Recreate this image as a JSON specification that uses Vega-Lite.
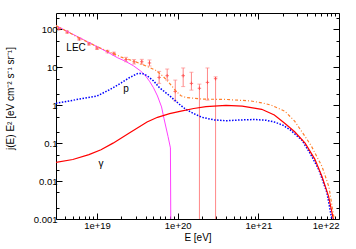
{
  "$schema": "https://vega.github.io/schema/vega-lite/v6.json",
  "width": 283,
  "height": 206,
  "autosize": "none",
  "padding": {"left": 56, "top": 13, "right": 17, "bottom": 30},
  "config": {
    "font": "Liberation Sans",
    "view": {"stroke": "#000", "strokeWidth": 1},
    "axis": {"labelFont": "Liberation Sans", "labelFontSize": 9.5, "labelColor": "#000", "titleFont": "Liberation Sans", "titleFontSize": 10, "titleFontWeight": "normal", "titleColor": "#000", "tickColor": "#000", "tickWidth": 1, "grid": false, "domain": false}
  },
  "datasets": {
    "tot": [
      {"E": 3.09e18, "v": 126}, {"E": 5.62e18, "v": 64}, {"E": 1.0e19, "v": 35}, {"E": 1.19e19, "v": 30},
      {"E": 2.0e19, "v": 18.5}, {"E": 2.82e19, "v": 14.7}, {"E": 3.98e19, "v": 11}, {"E": 5.31e19, "v": 8.4},
      {"E": 6.46e19, "v": 6.0}, {"E": 7.76e19, "v": 4.0}, {"E": 9.44e19, "v": 2.4}, {"E": 1.10e20, "v": 1.77},
      {"E": 1.26e20, "v": 1.6}, {"E": 2.0e20, "v": 1.45}, {"E": 3.98e20, "v": 1.42}, {"E": 7.94e20, "v": 1.3},
      {"E": 1.12e21, "v": 1.15}, {"E": 1.45e21, "v": 1.0}, {"E": 2.14e21, "v": 0.69}, {"E": 2.82e21, "v": 0.38},
      {"E": 3.80e21, "v": 0.15}, {"E": 4.57e21, "v": 0.082}, {"E": 6.17e21, "v": 0.024}, {"E": 7.5e21, "v": 0.007},
      {"E": 8.71e21, "v": 0.001}, {"E": 9.33e21, "v": 0.0005}
    ],
    "lec": [
      {"E": 3.09e18, "v": 126}, {"E": 1.0e19, "v": 35}, {"E": 1.12e19, "v": 31}, {"E": 1.41e19, "v": 24},
      {"E": 1.78e19, "v": 18}, {"E": 2.24e19, "v": 14.5}, {"E": 2.82e19, "v": 11}, {"E": 3.47e19, "v": 8},
      {"E": 3.98e19, "v": 6}, {"E": 4.47e19, "v": 4.3}, {"E": 5.01e19, "v": 2.9}, {"E": 5.62e19, "v": 1.75},
      {"E": 6.31e19, "v": 0.9}, {"E": 6.76e19, "v": 0.45}, {"E": 7.59e19, "v": 0.15}, {"E": 8.13e19, "v": 0.075},
      {"E": 8.22e19, "v": 0.0005}
    ],
    "p": [
      {"E": 3.09e18, "v": 1.13}, {"E": 5.01e18, "v": 1.35}, {"E": 1.0e19, "v": 1.75}, {"E": 1.45e19, "v": 2.6},
      {"E": 2.0e19, "v": 3.9}, {"E": 2.51e19, "v": 5.3}, {"E": 3.16e19, "v": 6.8}, {"E": 3.63e19, "v": 6.9},
      {"E": 4.17e19, "v": 6.0}, {"E": 5.01e19, "v": 4.4}, {"E": 5.89e19, "v": 2.95}, {"E": 7.94e19, "v": 1.77},
      {"E": 1.05e20, "v": 1.06}, {"E": 1.26e20, "v": 0.78}, {"E": 1.58e20, "v": 0.6}, {"E": 2.0e20, "v": 0.48},
      {"E": 2.82e20, "v": 0.41}, {"E": 3.98e20, "v": 0.39}, {"E": 6.31e20, "v": 0.41}, {"E": 8.91e20, "v": 0.42},
      {"E": 1.26e21, "v": 0.40}, {"E": 1.58e21, "v": 0.36}, {"E": 2.0e21, "v": 0.3}, {"E": 2.51e21, "v": 0.22},
      {"E": 3.47e21, "v": 0.12}, {"E": 4.47e21, "v": 0.05}, {"E": 5.62e21, "v": 0.02}, {"E": 7.08e21, "v": 0.005},
      {"E": 8.13e21, "v": 0.001}, {"E": 8.51e21, "v": 0.0005}
    ],
    "g": [
      {"E": 3.09e18, "v": 0.031}, {"E": 5.01e18, "v": 0.037}, {"E": 7.94e18, "v": 0.05}, {"E": 1.12e19, "v": 0.067},
      {"E": 1.58e19, "v": 0.1}, {"E": 2.57e19, "v": 0.19}, {"E": 4.17e19, "v": 0.36}, {"E": 5.62e19, "v": 0.48},
      {"E": 7.94e19, "v": 0.6}, {"E": 1.10e20, "v": 0.7}, {"E": 1.58e20, "v": 0.82}, {"E": 2.24e20, "v": 0.92},
      {"E": 3.98e20, "v": 0.99}, {"E": 6.31e20, "v": 0.95}, {"E": 1.10e21, "v": 0.78}, {"E": 1.58e21, "v": 0.55},
      {"E": 2.14e21, "v": 0.33}, {"E": 2.82e21, "v": 0.2}, {"E": 3.80e21, "v": 0.1}, {"E": 5.01e21, "v": 0.038},
      {"E": 6.17e21, "v": 0.013}, {"E": 7.41e21, "v": 0.004}, {"E": 8.51e21, "v": 0.001}, {"E": 8.91e21, "v": 0.0005}
    ],
    "err": [
      {"E": 3.35e18, "v": 104, "lo": 97, "hi": 112},
      {"E": 4.27e18, "v": 85, "lo": 79, "hi": 91},
      {"E": 6.03e18, "v": 56, "lo": 52, "hi": 60},
      {"E": 7.94e18, "v": 41.5, "lo": 38.5, "hi": 45},
      {"E": 1.0e19, "v": 32, "lo": 29.5, "hi": 34.5},
      {"E": 1.35e19, "v": 26, "lo": 24, "hi": 28},
      {"E": 1.62e19, "v": 23, "lo": 21, "hi": 25},
      {"E": 2.29e19, "v": 16, "lo": 14, "hi": 18.3},
      {"E": 2.88e19, "v": 14, "lo": 12.2, "hi": 16},
      {"E": 3.59e19, "v": 14, "lo": 12, "hi": 16.2},
      {"E": 4.47e19, "v": 13, "lo": 10.8, "hi": 15.6},
      {"E": 5.89e19, "v": 5.4, "lo": 3.76, "hi": 7.8},
      {"E": 7.41e19, "v": 6.0, "lo": 4.6, "hi": 9.0},
      {"E": 9.33e19, "v": 2.3, "lo": 1.3, "hi": 4.6},
      {"E": 1.17e20, "v": 6.0, "lo": 3.1, "hi": 9.6},
      {"E": 1.48e20, "v": 3.76, "lo": 2.5, "hi": 7.4},
      {"E": 1.86e20, "v": 2.8, "lo": 0.0001, "hi": 3.6},
      {"E": 2.34e20, "v": 4.0, "lo": 1.36, "hi": 9.6},
      {"E": 2.95e20, "v": 5.0, "lo": 0.0001, "hi": 5.6}
    ],
    "labels": [
      {"E": 5.5e18, "v": 32, "t": "LEC"},
      {"E": 2.29e19, "v": 2.66, "t": "p"},
      {"E": 1.12e19, "v": 0.029, "t": "γ"}
    ]
  },
  "resolve": {"axis": {"x": "independent", "y": "independent"}},
  "layer": [
    {
      "data": {"name": "err"},
      "mark": {"type": "rule", "color": "#ff8888", "strokeWidth": 1, "clip": true},
      "encoding": {
        "x": {"field": "E", "type": "quantitative", "scale": {"type": "log", "domain": [3.1e18, 1e22], "nice": false}, "axis": null},
        "y": {"field": "lo", "type": "quantitative", "scale": {"type": "log", "domain": [0.001, 270], "nice": false}, "axis": null},
        "y2": {"field": "hi"}
      }
    },
    {
      "data": {"name": "err"},
      "mark": {"type": "tick", "orient": "horizontal", "color": "#ff8888", "size": 4, "thickness": 1, "clip": true},
      "encoding": {
        "x": {"field": "E", "type": "quantitative", "scale": {"type": "log", "domain": [3.1e18, 1e22], "nice": false}, "axis": null},
        "y": {"field": "hi", "type": "quantitative", "scale": {"type": "log", "domain": [0.001, 270], "nice": false}, "axis": null}
      }
    },
    {
      "data": {"name": "err"},
      "mark": {"type": "tick", "orient": "horizontal", "color": "#ff8888", "size": 4, "thickness": 1, "clip": true},
      "encoding": {
        "x": {"field": "E", "type": "quantitative", "scale": {"type": "log", "domain": [3.1e18, 1e22], "nice": false}, "axis": null},
        "y": {"field": "lo", "type": "quantitative", "scale": {"type": "log", "domain": [0.001, 270], "nice": false}, "axis": null}
      }
    },
    {
      "data": {"name": "err"},
      "mark": {"type": "point", "shape": "M-1,0H1M0,-1V1", "size": 12, "filled": false, "stroke": "#ff3030", "strokeWidth": 1, "clip": true},
      "encoding": {
        "x": {"field": "E", "type": "quantitative", "scale": {"type": "log", "domain": [3.1e18, 1e22], "nice": false}, "axis": null},
        "y": {"field": "v", "type": "quantitative", "scale": {"type": "log", "domain": [0.001, 270], "nice": false}, "axis": null}
      }
    },
    {
      "data": {"name": "lec"},
      "mark": {"type": "line", "color": "#ff40ff", "strokeWidth": 1, "clip": true},
      "encoding": {
        "x": {"field": "E", "type": "quantitative", "scale": {"type": "log", "domain": [3.1e18, 1e22], "nice": false},
          "axis": {"orient": "top", "values": [1e19, 1e20, 1e21, 1e22], "labels": false, "tickSize": -6, "title": null}},
        "y": {"field": "v", "type": "quantitative", "scale": {"type": "log", "domain": [0.001, 270], "nice": false},
          "axis": {"orient": "right", "values": [0.001, 0.01, 0.1, 1, 10, 100], "labels": false, "tickSize": -6, "title": null}}
      }
    },
    {
      "data": {"name": "p"},
      "mark": {"type": "line", "color": "#0000ff", "strokeWidth": 1.5, "strokeDash": [1.5, 1.5], "clip": true},
      "encoding": {
        "x": {"field": "E", "type": "quantitative", "scale": {"type": "log", "domain": [3.1e18, 1e22], "nice": false},
          "axis": {"orient": "bottom", "values": [4e18, 5e18, 6e18, 7e18, 8e18, 9e18, 2e19, 3e19, 4e19, 5e19, 6e19, 7e19, 8e19, 9e19, 2e20, 3e20, 4e20, 5e20, 6e20, 7e20, 8e20, 9e20, 2e21, 3e21, 4e21, 5e21, 6e21, 7e21, 8e21, 9e21], "labels": false, "tickSize": -3, "title": null}},
        "y": {"field": "v", "type": "quantitative", "scale": {"type": "log", "domain": [0.001, 270], "nice": false},
          "axis": {"orient": "left", "values": [0.002, 0.005, 0.02, 0.05, 0.2, 0.5, 2, 5, 20, 50, 200], "labels": false, "tickSize": -3, "title": null}}
      }
    },
    {
      "data": {"name": "g"},
      "mark": {"type": "line", "color": "#ff0000", "strokeWidth": 1.2, "clip": true},
      "encoding": {
        "x": {"field": "E", "type": "quantitative", "scale": {"type": "log", "domain": [3.1e18, 1e22], "nice": false},
          "axis": {"orient": "top", "values": [4e18, 5e18, 6e18, 7e18, 8e18, 9e18, 2e19, 3e19, 4e19, 5e19, 6e19, 7e19, 8e19, 9e19, 2e20, 3e20, 4e20, 5e20, 6e20, 7e20, 8e20, 9e20, 2e21, 3e21, 4e21, 5e21, 6e21, 7e21, 8e21, 9e21], "labels": false, "tickSize": -3, "title": null}},
        "y": {"field": "v", "type": "quantitative", "scale": {"type": "log", "domain": [0.001, 270], "nice": false},
          "axis": {"orient": "right", "values": [0.002, 0.005, 0.02, 0.05, 0.2, 0.5, 2, 5, 20, 50, 200], "labels": false, "tickSize": -3, "title": null}}
      }
    },
    {
      "data": {"name": "tot"},
      "mark": {"type": "line", "color": "#ff7f2a", "strokeWidth": 1.2, "strokeDash": [3, 2, 1, 2], "clip": true},
      "encoding": {
        "x": {"field": "E", "type": "quantitative", "scale": {"type": "log", "domain": [3.1e18, 1e22], "nice": false},
          "axis": {"orient": "bottom", "values": [1e19, 1e20, 1e21, 1e22], "labelExpr": "'1e+' + round(log(datum.value)/LN10)", "tickSize": -6, "labelPadding": 7, "title": "E [eV]", "titlePadding": 3}},
        "y": {"field": "v", "type": "quantitative", "scale": {"type": "log", "domain": [0.001, 270], "nice": false},
          "axis": {"orient": "left", "values": [0.001, 0.01, 0.1, 1, 10, 100], "format": "~g", "tickSize": -6, "labelPadding": 5, "title": "j(E) E² [eV cm⁻² s⁻¹ sr⁻¹]", "titleX": -45.5, "titleY": 85, "titleAlign": "center", "titleBaseline": "middle", "titleAngle": -90}}
      }
    },
    {
      "data": {"name": "labels"},
      "mark": {"type": "text", "font": "Liberation Sans", "fontSize": 10, "color": "#000", "align": "center", "baseline": "middle"},
      "encoding": {
        "x": {"field": "E", "type": "quantitative", "scale": {"type": "log", "domain": [3.1e18, 1e22], "nice": false}, "axis": null},
        "y": {"field": "v", "type": "quantitative", "scale": {"type": "log", "domain": [0.001, 270], "nice": false}, "axis": null},
        "text": {"field": "t"}
      }
    }
  ]
}
